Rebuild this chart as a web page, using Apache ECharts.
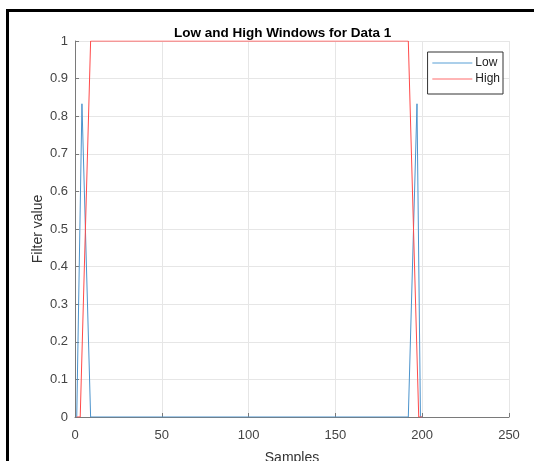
<!DOCTYPE html>
<html>
<head>
<meta charset="utf-8">
<script src="https://cdn.jsdelivr.net/npm/echarts@6/dist/echarts.min.js"></script>
<style>html,body{margin:0;padding:0;background:#fff}#c{width:534px;height:461px}</style>
</head>
<body>
<div id="c"></div>
<script>
// Breakpoints (sample index, filter value)
var lowX  = [1, 2, 4, 9, 192, 197, 199, 200];
var lowY  = [0, 0, 0.833, 0, 0, 0.833, 0, 0];
var highX = [1, 3, 9, 192, 198, 200];
var highY = [0, 0, 1, 1, 0, 0];
var xTicks = [0, 50, 100, 150, 200, 250];
var yTicks = [0, 0.1, 0.2, 0.3, 0.4, 0.5, 0.6, 0.7, 0.8, 0.9, 1];

var lowColor = '#4b93cc', highColor = '#ff4a4a';
function pairs(xs, ys) { return xs.map(function (x, i) { return [x, ys[i]]; }); }

var chart = echarts.init(document.getElementById('c'), null, {renderer: 'canvas'});
var hiddenSym = {color: 'rgba(0,0,0,0)', borderWidth: 0, borderColor: 'rgba(0,0,0,0)'};
chart.setOption({
  animation: false,
  backgroundColor: '#fff',
  title: {
    text: 'Low and High Windows for Data 1',
    left: 169, top: 21,
    textStyle: {fontFamily: 'Liberation Sans, Arial', fontSize: 13.5, fontWeight: 'bold', color: '#000'}
  },
  grid: {left: 75, right: 25, top: 41, bottom: 44, containLabel: false, outerBoundsMode: 'none'},
  legend: {
    right: 31, top: 52, orient: 'vertical',
    backgroundColor: '#fff', borderColor: '#333', borderWidth: 1,
    padding: [5, 3, 9, 4], itemGap: 4, itemWidth: 40, itemHeight: 13,
    textStyle: {fontFamily: 'Liberation Sans, Arial', fontSize: 12, color: '#222', padding: [0, 0, 0, -2]},
    itemStyle: hiddenSym,
    data: [
      {name: 'Low', itemStyle: hiddenSym, lineStyle: {color: '#8fbfe3', width: 1.5}},
      {name: 'High', itemStyle: hiddenSym, lineStyle: {color: '#ff9c9c', width: 1.5}}
    ]
  },
  xAxis: {
    type: 'value', min: xTicks[0], max: xTicks[xTicks.length - 1], interval: 50,
    name: 'Samples', nameLocation: 'middle', nameGap: 34, nameMoveOverlap: false,
    nameTextStyle: {fontFamily: 'Liberation Sans, Arial', fontSize: 14, color: '#333'},
    axisLine: {lineStyle: {color: '#7a7a7a', width: 1}},
    axisTick: {inside: true, length: 4, lineStyle: {color: '#7a7a7a'}},
    axisLabel: {margin: 12, fontFamily: 'Liberation Sans, Arial', fontSize: 13, color: '#444'},
    splitLine: {show: true, lineStyle: {color: '#e6e6e6', width: 1}}
  },
  yAxis: {
    type: 'value', min: yTicks[0], max: yTicks[yTicks.length - 1], interval: 0.1,
    name: 'Filter value', nameLocation: 'middle', nameGap: 30, nameMoveOverlap: false,
    nameTextStyle: {fontFamily: 'Liberation Sans, Arial', fontSize: 14, color: '#333'},
    axisLine: {show: true, lineStyle: {color: '#7a7a7a', width: 1}},
    axisTick: {show: true, inside: true, length: 4, lineStyle: {color: '#7a7a7a'}},
    axisLabel: {margin: 7, fontFamily: 'Liberation Sans, Arial', fontSize: 13, color: '#444',
      formatter: function (v) { return String(Math.round(v * 10) / 10); }},
    splitLine: {show: true, lineStyle: {color: '#e6e6e6', width: 1}}
  },
  series: [
    {name: 'Low', type: 'line', data: pairs(lowX, lowY), showSymbol: false, symbol: 'none',
     lineStyle: {color: lowColor, width: 1}, itemStyle: {color: lowColor}},
    {name: 'High', type: 'line', data: pairs(highX, highY), showSymbol: false, symbol: 'none',
     lineStyle: {color: highColor, width: 1}, itemStyle: {color: highColor}}
  ],
  graphic: [
    {type: 'line', shape: {x1: 7.5, y1: 10, x2: 7.5, y2: 461}, style: {stroke: '#000', lineWidth: 3}, z: 100},
    {type: 'line', shape: {x1: 6, y1: 10.5, x2: 534, y2: 10.5}, style: {stroke: '#000', lineWidth: 3}, z: 100}
  ]
});
</script>
</body>
</html>
